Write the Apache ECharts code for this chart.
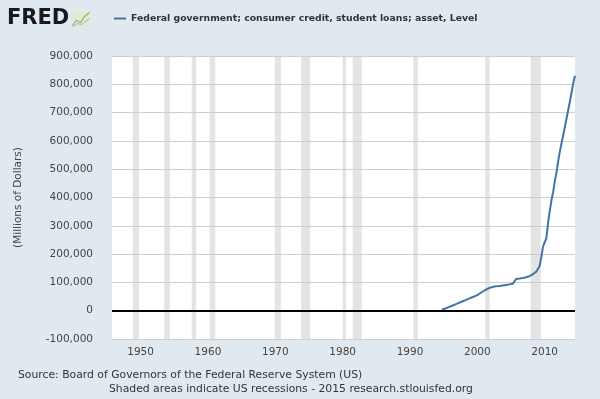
<!DOCTYPE html>
<html lang="en">
<head>
  <meta charset="UTF-8">
  <title>FRED – Federal government student loans</title>
  <script src="https://cdn.jsdelivr.net/npm/echarts@6.0.0/dist/echarts.min.js"></script>
  <style>
    html, body { margin: 0; padding: 0; background: #e1e9f0; }
  </style>
</head>
<body>
  <!-- Chart container -->
  <div id="main" style="width: 600px; height: 399px;"></div>

  <script>
    const quarters = [
      '1994-10-01',
      '1995-01-01', '1995-04-01', '1995-07-01', '1995-10-01',
      '1996-01-01', '1996-04-01', '1996-07-01', '1996-10-01',
      '1997-01-01', '1997-04-01', '1997-07-01', '1997-10-01',
      '1998-01-01', '1998-04-01', '1998-07-01', '1998-10-01',
      '1999-01-01', '1999-04-01', '1999-07-01', '1999-10-01',
      '2000-01-01', '2000-04-01', '2000-07-01', '2000-10-01',
      '2001-01-01', '2001-04-01', '2001-07-01', '2001-10-01',
      '2002-01-01', '2002-04-01', '2002-07-01', '2002-10-01',
      '2003-01-01', '2003-04-01', '2003-07-01', '2003-10-01',
      '2004-01-01', '2004-04-01', '2004-07-01', '2004-10-01',
      '2005-01-01', '2005-04-01', '2005-07-01', '2005-10-01',
      '2006-01-01', '2006-04-01', '2006-07-01', '2006-10-01',
      '2007-01-01', '2007-04-01', '2007-07-01', '2007-10-01',
      '2008-01-01', '2008-04-01', '2008-07-01', '2008-10-01',
      '2009-01-01', '2009-04-01', '2009-07-01', '2009-10-01',
      '2010-01-01', '2010-04-01', '2010-07-01', '2010-10-01',
      '2011-01-01', '2011-04-01', '2011-07-01', '2011-10-01',
      '2012-01-01', '2012-04-01', '2012-07-01', '2012-10-01',
      '2013-01-01', '2013-04-01', '2013-07-01', '2013-10-01',
      '2014-01-01', '2014-04-01', '2014-07-01'
    ];
    const studentLoans = [
      4000,
      6000, 8000, 10000, 12500,
      15000, 17500, 20000, 22500,
      25000, 27500, 30000, 32500,
      35000, 37500, 40000, 42500,
      45000, 47500, 50000, 52500,
      55000, 59000, 63000, 67000,
      71000, 74000, 77000, 80000,
      82000, 84000, 86000, 86500,
      87000, 87500, 88000, 89000,
      90000, 91000, 92000, 93000,
      94000, 95000, 96000, 112000,
      113000, 113500, 114500, 115500,
      116500, 118000, 120000, 122000,
      125000, 129000, 133000, 138000,
      145000, 158000, 190000, 226000,
      242000, 256000, 310000, 352000,
      390000, 418000, 458000, 488000,
      528000, 562000, 592000, 620000,
      650000, 680000, 710000, 740000,
      772000, 805000, 830000
    ];

    // NBER recessions [start, end]
    const recessions = [
      ['1948-11-01', '1949-10-01'],
      ['1953-07-01', '1954-05-01'],
      ['1957-08-01', '1958-04-01'],
      ['1960-04-01', '1961-02-01'],
      ['1969-12-01', '1970-11-01'],
      ['1973-11-01', '1975-03-01'],
      ['1980-01-01', '1980-07-01'],
      ['1981-07-01', '1982-11-01'],
      ['1990-07-01', '1991-03-01'],
      ['2001-03-01', '2001-11-01'],
      ['2007-12-01', '2009-06-01']
    ];

    const xTickYears = [1950, 1960, 1970, 1980, 1990, 2000, 2010];
    const yTicks = [-100000, 0, 100000, 200000, 300000, 400000, 500000, 600000, 700000, 800000, 900000];
    const xStart = '1945-10-01';
    const xEnd = '2014-07-01';

    const seriesName = 'Federal government; consumer credit, student loans; asset, Level';
    const font = 'DejaVu Sans';

    // 'YYYY-MM-DD' -> decimal year, so the x axis can be a plain value axis
    function toYear(d) {
      const p = d.split('-');
      return +p[0] + (+p[1] - 1) / 12;
    }

    const myChart = echarts.init(document.getElementById('main'));

    const options = {
      backgroundColor: '#e1e9f0',
      textStyle: { fontFamily: font },
      title: [
        {
          text: 'FRED',
          left: 7, top: 8, padding: 0,
          textStyle: { fontSize: 21, fontWeight: 900, color: '#1a1a1a', fontFamily: font }
        },
        {
          text: 'Source: Board of Governors of the Federal Reserve System (US)',
          left: 18, top: 370, padding: 0,
          textStyle: { fontSize: 10.8, fontWeight: 'normal', color: '#333', fontFamily: font }
        },
        {
          text: 'Shaded areas indicate US recessions - 2015 research.stlouisfed.org',
          left: 109, top: 384, padding: 0,
          textStyle: { fontSize: 10.8, fontWeight: 'normal', color: '#333', fontFamily: font }
        }
      ],
      graphic: [
        // little chart icon next to the logo
        {
          type: 'group', left: 70, top: 10,
          children: [
            { type: 'rect', shape: { x: 0, y: 0, width: 19, height: 17 },
              style: { fill: '#e2ead6' } },
            { type: 'polyline', shape: { points: [[1, 15], [5, 10], [9, 12], [13, 6], [18, 2]] },
              style: { stroke: '#8fb56c', lineWidth: 1.2, fill: null } },
            { type: 'polyline', shape: { points: [[1, 16], [6, 13], [10, 14], [18, 8]] },
              style: { stroke: '#a4b4c6', lineWidth: 1, fill: null } }
          ]
        }
      ],
      legend: {
        data: [seriesName],
        left: 109, top: 9,
        itemWidth: 12, itemHeight: 2,
        icon: 'rect',
        textStyle: { fontSize: 9.3, fontWeight: 'bold', color: '#333', fontFamily: font }
      },
      grid: {
        left: 112, right: 25, top: 56, bottom: 60,
        show: true, backgroundColor: '#fff', borderWidth: 0
      },
      xAxis: {
        type: 'value',
        min: toYear(xStart),
        max: toYear(xEnd),
        axisLine: { show: false },
        axisTick: { show: false },
        splitLine: { show: false },
        axisLabel: {
          customValues: xTickYears,
          formatter: v => String(v),
          fontSize: 10.5, color: '#444', margin: 8
        }
      },
      yAxis: {
        type: 'value',
        min: yTicks[0],
        max: yTicks[yTicks.length - 1],
        interval: 100000,
        name: '(Millions of Dollars)',
        nameLocation: 'middle',
        nameGap: 88,
        nameTextStyle: { fontSize: 10.5, color: '#444' },
        axisLine: { show: false },
        axisTick: { show: false },
        splitLine: { lineStyle: { color: '#cfcfcf', width: 1 } },
        axisLabel: {
          fontSize: 10.5, color: '#444', margin: 19,
          formatter: v => v.toLocaleString('en-US')
        }
      },
      series: [
        {
          // recession shading, kept under the data line
          name: 'recessions',
          type: 'line',
          data: [],
          z: 1,
          silent: true,
          markArea: {
            silent: true,
            itemStyle: { color: 'rgba(205,205,205,0.55)' },
            data: recessions.map(r => [{ xAxis: toYear(r[0]) }, { xAxis: toYear(r[1]) }])
          }
        },
        {
          name: seriesName,
          type: 'line',
          z: 3,
          showSymbol: false,
          color: '#4572a7',
          lineStyle: { color: '#4572a7', width: 2 },
          data: quarters.map((q, i) => [toYear(q), studentLoans[i]]),
          markLine: {
            silent: true,
            symbol: ['none', 'none'],
            label: { show: false },
            lineStyle: { color: '#000', width: 2, type: 'solid' },
            data: [{ yAxis: 0 }]
          }
        }
      ]
    };

    myChart.setOption(options);
  </script>
</body>
</html>
